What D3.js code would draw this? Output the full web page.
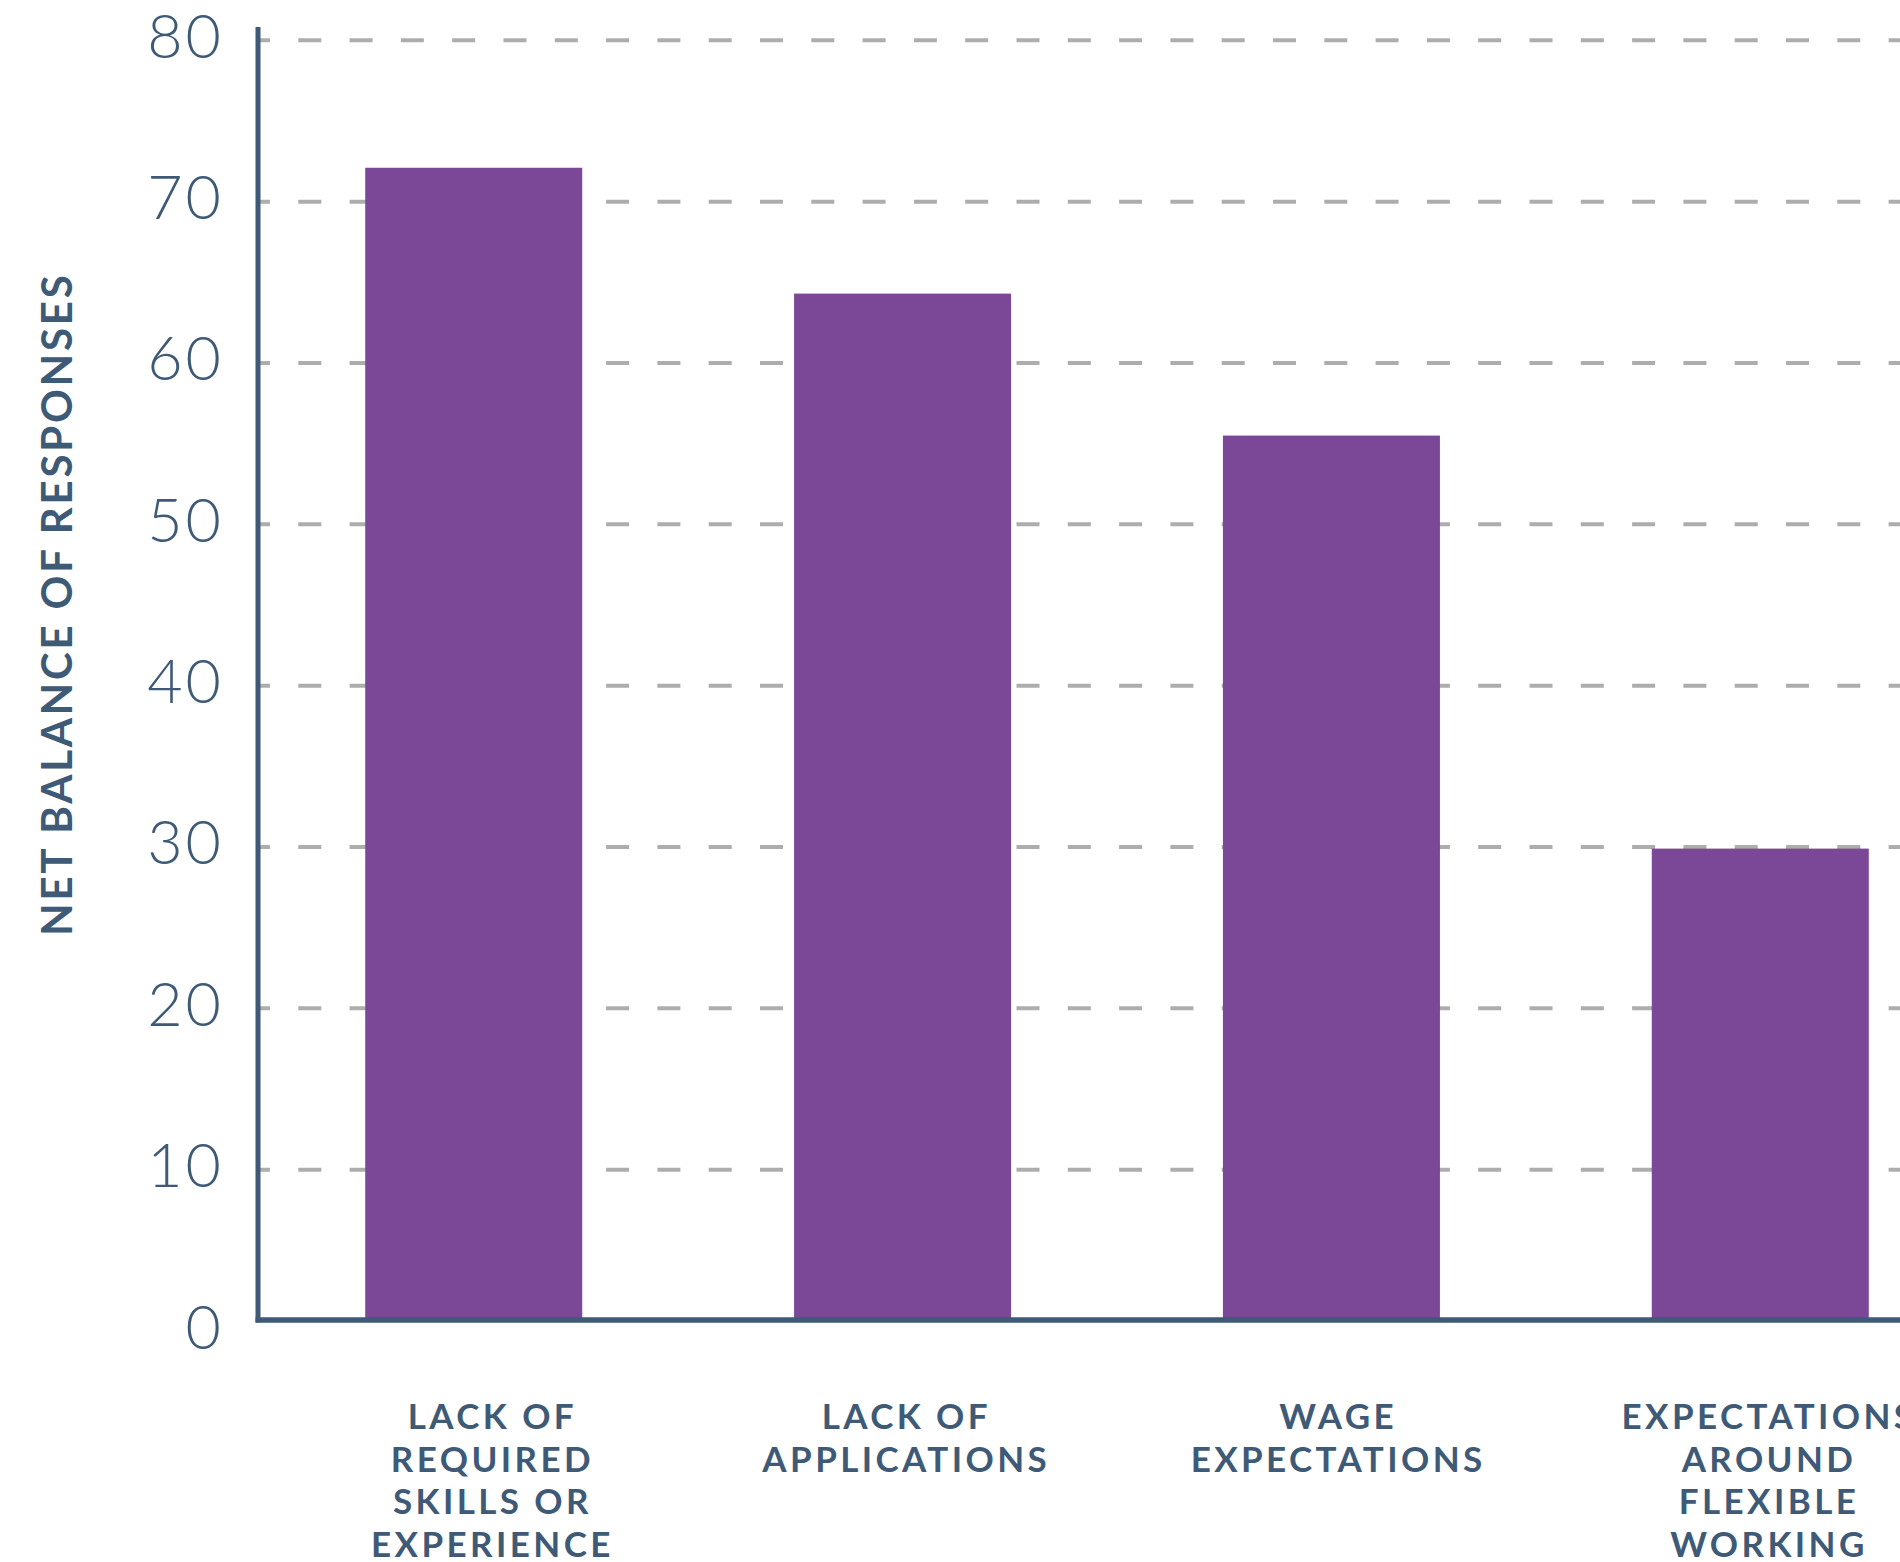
<!DOCTYPE html>
<html>
<head>
<meta charset="utf-8">
<script src="https://cdn.jsdelivr.net/npm/d3@7"></script>
<style>
  body { margin: 0; background: #ffffff; }
  svg { display: block; }
</style>
</head>
<body>
<svg id="chart"></svg>
<script>
// chart data
var categories = ["required", "applications", "wage", "flexible"];
var labelLines = [
    ["LACK OF", "REQUIRED", "SKILLS OR", "EXPERIENCE"],
    ["LACK OF", "APPLICATIONS"],
    ["WAGE", "EXPECTATIONS"],
    ["EXPECTATIONS", "AROUND", "FLEXIBLE", "WORKING"]
];
var values = [72.1, 64.3, 55.5, 29.9];
var yTicks = [0, 10, 20, 30, 40, 50, 60, 70, 80];
var yTitle = "NET BALANCE OF RESPONSES";

var width = 1900;
var height = 1562;

var inkColor = "#3e5a77";
var barColor = "#7b4897";
var gridColor = "#adadad";

// small per-label nudges so the wrapped labels sit like the original
var labelNudge = [17, 2, 5, 7];

var svg = d3.select("#chart")
    .attr("width", width)
    .attr("height", height);

var y = d3.scaleLinear()
    .domain([0, 80])
    .range([1331, 40.3]);

var x = d3.scaleBand()
    .domain(categories)
    .range([258, 1976])
    .paddingInner(0.494)
    .paddingOuter(0.25);

// drawn baseline sits a little above the zero tick
var baseY = y(0) - 11;
var axisX = 258;

// dashed gridlines
svg.append("g")
    .selectAll("line")
    .data(yTicks.filter(function(d) { return d > 0; }))
    .enter()
    .append("line")
    .attr("x1", axisX)
    .attr("x2", width)
    .attr("y1", function(d) { return y(d); })
    .attr("y2", function(d) { return y(d); })
    .attr("stroke", gridColor)
    .attr("stroke-width", 4)
    .attr("stroke-dasharray", "23 28.3")
    .attr("stroke-dashoffset", 11);

// bars
svg.append("g")
    .selectAll("rect")
    .data(values)
    .enter()
    .append("rect")
    .attr("x", function(d, i) { return x(categories[i]); })
    .attr("width", x.bandwidth())
    .attr("y", function(d) { return y(d); })
    .attr("height", function(d) { return baseY - y(d); })
    .attr("fill", barColor);

// axis lines
svg.append("line")
    .attr("x1", axisX)
    .attr("x2", axisX)
    .attr("y1", 27)
    .attr("y2", baseY + 2.6)
    .attr("stroke", inkColor)
    .attr("stroke-width", 5);

svg.append("line")
    .attr("x1", axisX - 2.5)
    .attr("x2", width)
    .attr("y1", baseY)
    .attr("y2", baseY)
    .attr("stroke", inkColor)
    .attr("stroke-width", 5.3);

// y tick labels
svg.append("g")
    .selectAll("text")
    .data(yTicks)
    .enter()
    .append("text")
    .attr("x", 224)
    .attr("y", function(d) { return y(d) + 17.5; })
    .attr("text-anchor", "end")
    .attr("fill", inkColor)
    .style("font-family", "Lato, 'Open Sans', sans-serif")
    .style("font-weight", 300)
    .style("font-size", "61px")
    .style("letter-spacing", "3px")
    .text(function(d) { return d; });

// y title
svg.append("text")
    .attr("transform", "translate(71.7,604) rotate(-90)")
    .attr("text-anchor", "middle")
    .attr("fill", inkColor)
    .style("font-family", "Lato, 'Open Sans', sans-serif")
    .style("font-weight", 700)
    .style("font-size", "42px")
    .style("letter-spacing", "2.8px")
    .text(yTitle);

// x category labels
var xl = svg.append("g")
    .selectAll("text")
    .data(categories)
    .enter()
    .append("text")
    .attr("text-anchor", "middle")
    .attr("fill", inkColor)
    .style("font-family", "Lato, 'Open Sans', sans-serif")
    .style("font-weight", 700)
    .style("font-size", "35px")
    .style("letter-spacing", "3.4px");

xl.each(function(d, i) {
    var cx = x(d) + x.bandwidth() / 2 + labelNudge[i] + 1.7;
    d3.select(this)
        .selectAll("tspan")
        .data(labelLines[i])
        .enter()
        .append("tspan")
        .attr("x", cx)
        .attr("y", function(t, j) { return 1429.3 + j * 42.4; })
        .text(function(t) { return t; });
});
</script>
</body>
</html>
